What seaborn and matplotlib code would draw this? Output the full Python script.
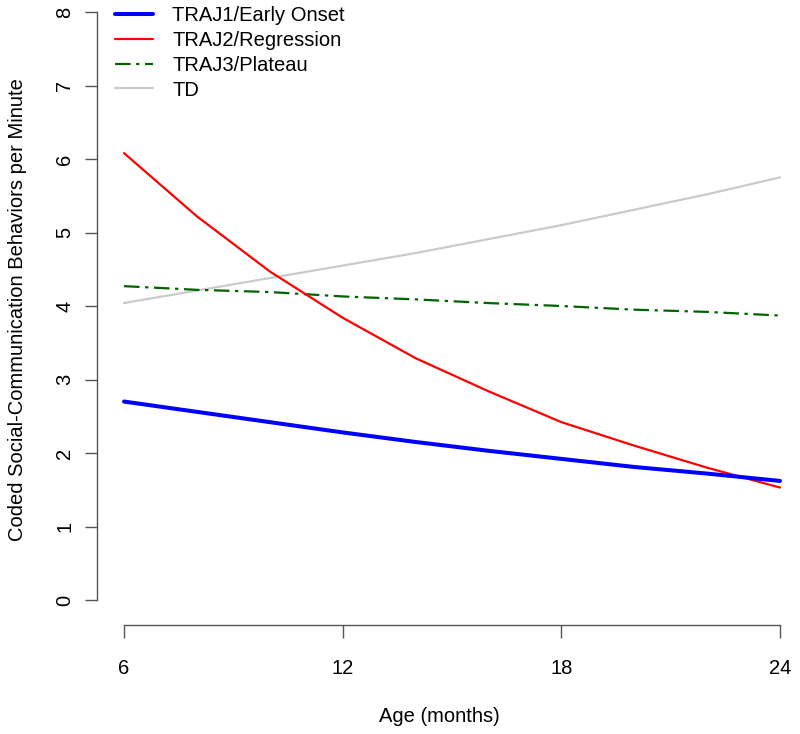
import numpy as np
import pandas as pd
import matplotlib
matplotlib.use("Agg")
import matplotlib.pyplot as plt
import seaborn as sns

# data
age = [6, 8, 10, 12, 14, 16, 18, 20, 22, 24]
traj1 = [2.70, 2.56, 2.42, 2.28, 2.15, 2.03, 1.92, 1.81, 1.72, 1.62]
traj2 = [6.08, 5.22, 4.47, 3.84, 3.29, 2.84, 2.42, 2.10, 1.80, 1.53]
traj3 = [4.27, 4.22, 4.19, 4.13, 4.09, 4.04, 4.00, 3.95, 3.92, 3.87]
td = [4.04, 4.21, 4.38, 4.55, 4.72, 4.91, 5.10, 5.31, 5.52, 5.75]

labels = ["TRAJ1/Early Onset", "TRAJ2/Regression", "TRAJ3/Plateau", "TD"]
x_ticks = [6, 12, 18, 24]
y_ticks = [0, 1, 2, 3, 4, 5, 6, 7, 8]

sns.set_style("white")
plt.rcParams["font.family"] = ["Liberation Sans", "DejaVu Sans"]
plt.rcParams["text.color"] = "black"
plt.rcParams["axes.labelcolor"] = "black"
FS = 14.5

W, H = 800, 734
fig = plt.figure(figsize=(W / 100, H / 100), dpi=100)
# axes in pixel coords: left 97, right 800, top 0, bottom 625
ax = fig.add_axes([97 / W, (H - 625) / H, (800 - 97) / W, 625 / H])

df = pd.DataFrame({"age": age, "t1": traj1, "t2": traj2, "t3": traj3, "td": td})

# draw TD first so it sits underneath
sns.lineplot(data=df, x="age", y="td", ax=ax, color="#cacaca", linewidth=1.6, label=labels[3])
sns.lineplot(data=df, x="age", y="t3", ax=ax, color="#006400", linewidth=1.6,
             label=labels[2]).lines[-1].set_dashes((7, 2.5, 1.5, 2.5))
sns.lineplot(data=df, x="age", y="t2", ax=ax, color="#ff0000", linewidth=1.6, label=labels[1])
sns.lineplot(data=df, x="age", y="t1", ax=ax, color="#0000ff", linewidth=2.9, label=labels[0])

# scale: 6 -> px 124, 24 -> px 780 ; 0 -> px 600, 8 -> px 12
xs = (780 - 124) / 18
ys = (600 - 12) / 8
ax.set_xlim(6 - (124 - 97) / xs, 24 + (800 - 780) / xs)
ax.set_ylim(0 - (625 - 600) / ys, 8 + 12 / ys)

for s in ["top", "right"]:
    ax.spines[s].set_visible(False)
for s in ["left", "bottom"]:
    ax.spines[s].set_color("#555555")
    ax.spines[s].set_linewidth(1.0)
ax.spines["left"].set_bounds(0, 8)
ax.spines["bottom"].set_bounds(6, 24)

ax.set_xticks(x_ticks)
ax.set_yticks(y_ticks)
ax.tick_params(axis="both", direction="out", length=9, width=1.0, color="#555555",
               labelsize=FS, labelcolor="black")
ax.tick_params(axis="x", pad=15.5, bottom=True)
ax.tick_params(axis="y", pad=7.5, left=True)
for lab in ax.get_yticklabels():
    lab.set_rotation(90)
    lab.set_va("center")

ax.set_xlabel("Age (months)", fontsize=FS, va="center", color="black")
ax.xaxis.set_label_coords((439 - 97) / 703, (625 - 717) / 625)
ax.set_ylabel("Coded Social-Communication Behaviors per Minute", fontsize=FS,
              va="center", color="black")
ax.yaxis.set_label_coords((18 - 97) / 703, (625 - 310) / 625)

handles, labs = ax.get_legend_handles_labels()
order = [labs.index(l) for l in labels]
leg = ax.legend([handles[i] for i in order], labels, loc="upper left",
                bbox_to_anchor=(115 / W, 1 - 6 / H), bbox_transform=fig.transFigure,
                frameon=False, fontsize=FS, handlelength=1.9, handletextpad=0.95,
                labelspacing=0.29, borderpad=0, borderaxespad=0)
for t in leg.get_texts():
    t.set_color("black")

fig.savefig("out.png", dpi=100)
